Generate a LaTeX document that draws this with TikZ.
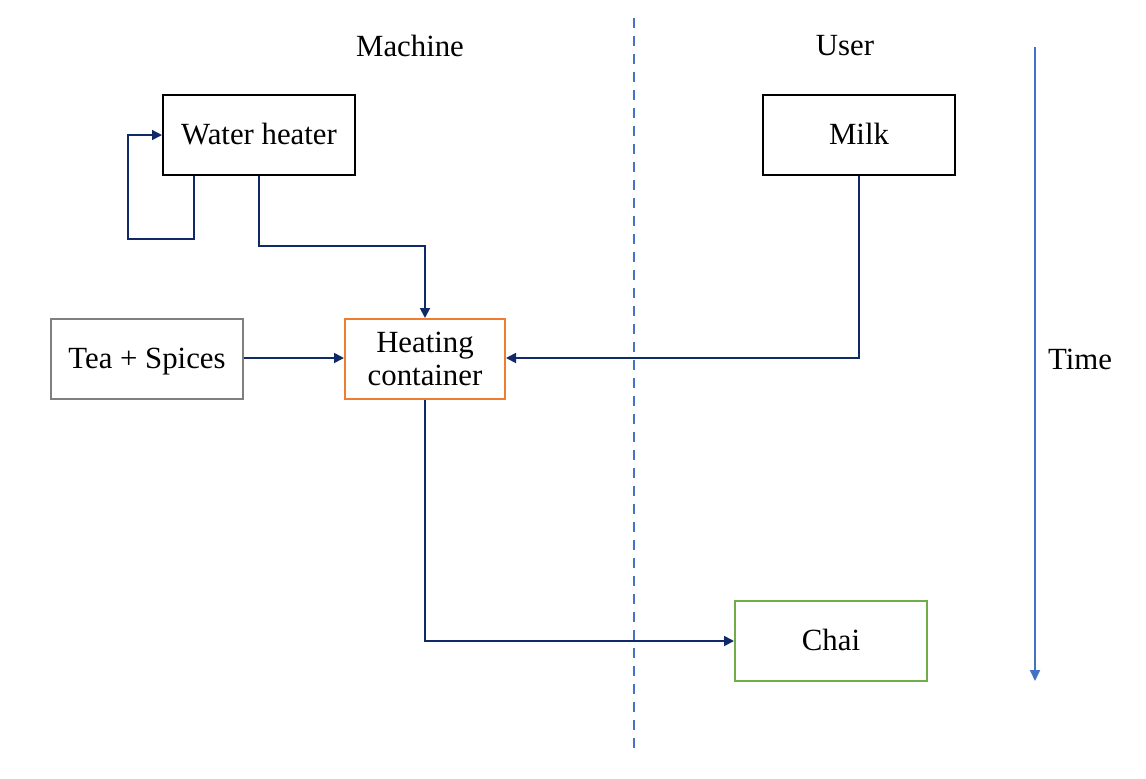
\documentclass[tikz,border=0pt]{standalone}
\usepackage{fontspec}
\setmainfont{Liberation Serif}
\usetikzlibrary{arrows.meta}
\definecolor{navy}{HTML}{0F2A66}
\definecolor{lblue}{HTML}{4472C4}
\definecolor{orng}{HTML}{ED7D31}
\definecolor{grn}{HTML}{70AD47}
\definecolor{gry}{HTML}{7F7F7F}
\begin{document}
\begin{tikzpicture}[x=0.5pt,y=-0.5pt,
  box/.style={draw=black,line width=1pt,minimum width=96pt,minimum height=40pt,inner sep=0pt,align=center,font=\fontsize{15.4}{16.5}\selectfont},
  one/.style={text height=10pt,text depth=0.5pt},
  conn/.style={draw=navy,line width=0.9pt,-{Triangle[length=5pt,width=5pt]}},
  lbl/.style={font=\fontsize{15.4}{17}\selectfont}]
\useasboundingbox (0,0) rectangle (1146,778);
\node[box,one] (wh) at (259,135) {Water heater};
\node[box,one] (milk) at (859,135) {Milk};
\node[box,one,draw=gry] (tea) at (147,359) {Tea + Spices};
\node[box,draw=orng,minimum width=80pt] (hc) at (425,359) {Heating\\container};
\node[box,one,draw=grn] (chai) at (831,641) {Chai};
\node[lbl] (lm) at (410,46) {Machine};
\node[lbl] (lu) at (845,46) {User};
\node[lbl] (lt) at (1080,359) {Time};
\coordinate (d1) at (634,18);
\coordinate (d2) at (634,748);
\draw[lblue,line width=0.9pt,dash pattern=on 5pt off 4pt] (d1) -- (d2);
\coordinate (t1) at (1035,47);
\coordinate (t2) at (1035,681);
\draw[lblue,line width=0.9pt,-{Triangle[length=5.5pt,width=5pt]}] (t1) -- (t2);
\draw[conn,line width=0.7pt] ([xshift=-32.5pt]wh.south) -- ++(0,63) -| (128,135) -- (wh.west);
\draw[conn] (wh.south) -- (259,246) -| (hc.north);
\draw[conn] (milk.south) |- ([yshift=0.5pt]hc.east);
\draw[conn] ([yshift=0.5pt]tea.east) -- ([yshift=0.5pt]hc.west);
\draw[conn] (hc.south) |- (chai.west);
\end{tikzpicture}
\end{document}
